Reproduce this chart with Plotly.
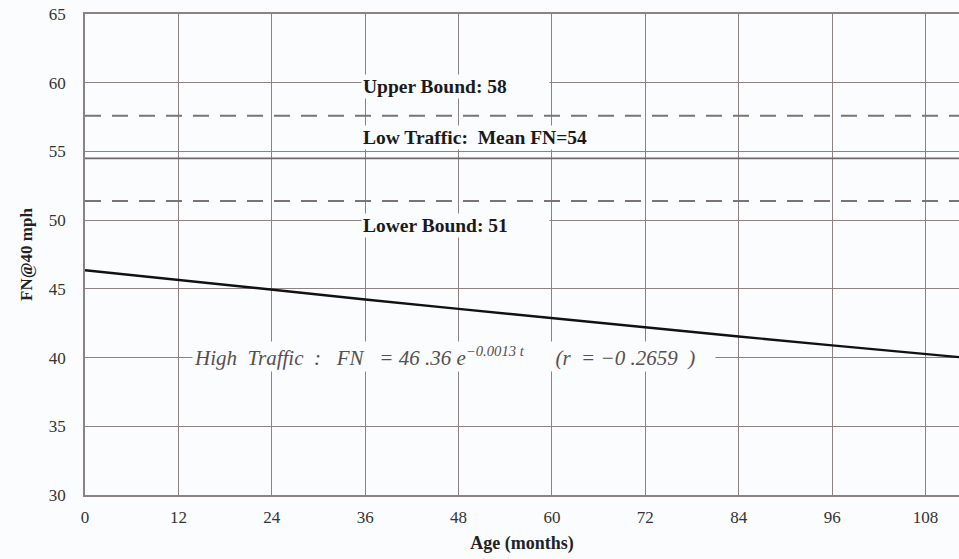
import plotly.graph_objects as go

# Data
age_months = [0, 12, 24, 36, 48, 60, 72, 84, 96, 108, 112.3]
fn_high_traffic = [46.36, 45.64, 44.93, 44.23, 43.54, 42.86, 42.19, 41.53, 40.89, 40.25, 40.03]
upper_bound = 57.6
mean_fn = 54.5
lower_bound = 51.4
x_range = [0, 112.3]
y_range = [30, 65]
x_ticks = [0, 12, 24, 36, 48, 60, 72, 84, 96, 108]
y_ticks = [30, 35, 40, 45, 50, 55, 60, 65]

grid_col = "#8c8282"
serif = "Liberation Serif"
bg = "#fbfcfe"


def styled(v):
    return f"<span style='font-family:Liberation Serif, serif;font-size:17px'>{v}</span>"


fig = go.Figure()

fig.add_trace(go.Scatter(x=x_range, y=[upper_bound, upper_bound], mode="lines",
                         line=dict(color="#7a7474", width=2, dash="16px,11px"), hoverinfo="skip"))
fig.add_trace(go.Scatter(x=x_range, y=[mean_fn, mean_fn], mode="lines",
                         line=dict(color="#6e6868", width=1.8), hoverinfo="skip"))
fig.add_trace(go.Scatter(x=x_range, y=[lower_bound, lower_bound], mode="lines",
                         line=dict(color="#7a7474", width=2, dash="16px,11px"), hoverinfo="skip"))
fig.add_trace(go.Scatter(x=age_months, y=fn_high_traffic, mode="lines",
                         line=dict(color="#111111", width=2.4), hoverinfo="skip"))

ann_font = dict(family=serif, size=19.5, color="#1a1a1a")
fig.add_annotation(x=35.5, y=59.75, xref="x", yref="y", text="<b>Upper Bound: 58</b>",
                   showarrow=False, xanchor="left", yanchor="middle", align="left",
                   width=185, bgcolor=bg, font=ann_font, borderpad=1)
fig.add_annotation(x=35.5, y=56.0, xref="x", yref="y", text="<b>Low Traffic:  Mean FN=54</b>",
                   showarrow=False, xanchor="left", yanchor="middle", align="left",
                   bgcolor=bg, font=ann_font, borderpad=1)
fig.add_annotation(x=35.5, y=49.6, xref="x", yref="y", text="<b>Lower Bound: 51</b>",
                   showarrow=False, xanchor="left", yanchor="middle", align="left",
                   width=185, bgcolor=bg, font=ann_font, borderpad=1)
fig.add_annotation(x=13.7, y=40.05, xref="x", yref="y",
                   text="<i>High  Traffic  :   FN   = 46 .36 e<sup>−0.0013 t</sup>      (r  = −0 .2659  )</i>",
                   showarrow=False, xanchor="left", yanchor="middle", align="left",
                   width=520, bgcolor=bg,
                   font=dict(family=serif, size=21, color="#555050"), borderpad=1)

tick_font = dict(family=serif, size=17, color="#333333")

fig.update_layout(
    width=959, height=559,
    margin=dict(l=85, r=0, t=14, b=64),
    paper_bgcolor=bg, plot_bgcolor=bg,
    showlegend=False,
    font=dict(family=serif, color="#333333", size=17),
)
fig.update_xaxes(range=x_range, tickmode="array", tickvals=x_ticks, ticktext=[styled(v) for v in x_ticks],
                 showgrid=True, gridcolor=grid_col, gridwidth=1.4,
                 showline=True, linecolor=grid_col, linewidth=1.6, mirror=True, zeroline=False,
                 ticks="outside", ticklen=6, tickcolor=bg, tickfont=tick_font,
                 title=dict(text="<b>Age (months)</b>", font=dict(family=serif, size=18, color="#222"), standoff=10))
fig.update_yaxes(range=y_range, tickmode="array", tickvals=y_ticks, ticktext=[styled(v) for v in y_ticks],
                 showgrid=True, gridcolor=grid_col, gridwidth=1.4,
                 showline=True, linecolor=grid_col, linewidth=1.6, zeroline=False,
                 ticks="outside", ticklen=14, tickcolor=bg, tickfont=tick_font,
                 title=dict(text="<b>FN@40 mph</b>", font=dict(family=serif, size=17, color="#222"), standoff=12))

fig.write_html("out.html")
